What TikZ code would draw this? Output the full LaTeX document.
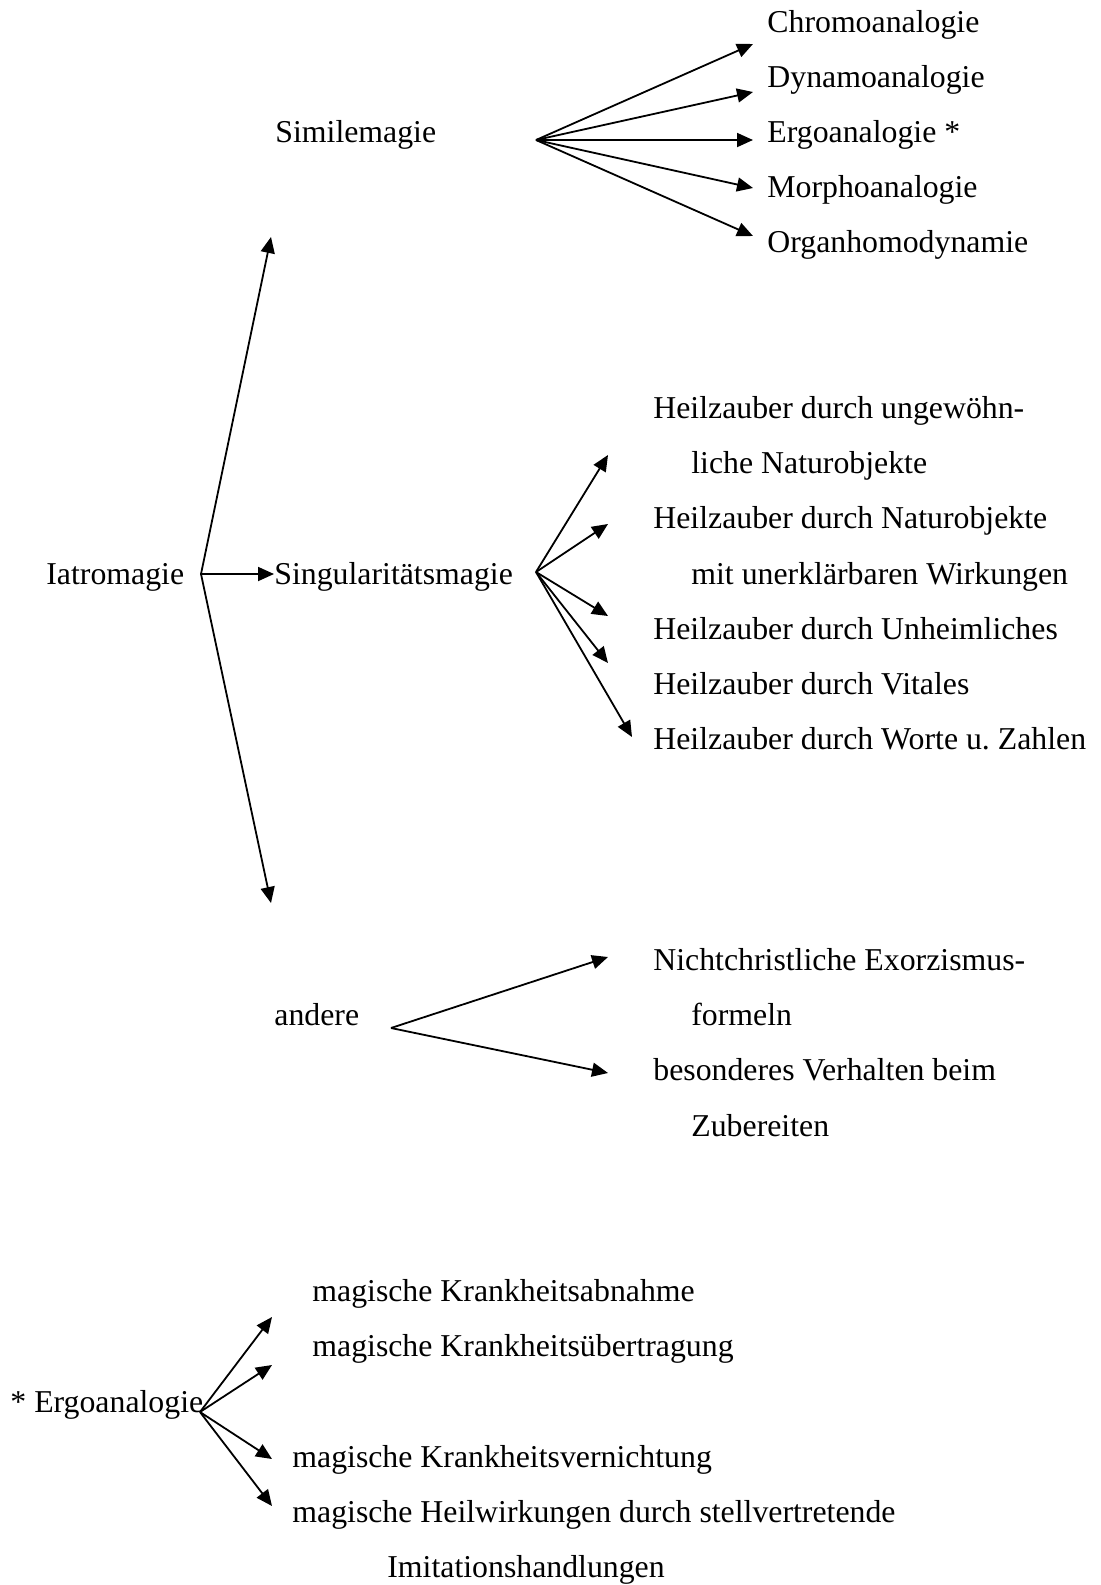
\documentclass[tikz,border=0pt]{standalone}
\usepackage{fontspec}
\setmainfont{Liberation Serif}
\usetikzlibrary{arrows.meta}
\frenchspacing
\begin{document}
\begin{tikzpicture}[x=0.5pt,y=-0.5pt,
  lbl/.style={anchor=base west,inner sep=0pt,font=\fontsize{15.9pt}{19pt}\selectfont},
  arr/.style={line width=0.9pt,-{Triangle[length=8pt,width=7pt]}}]
\useasboundingbox (0,0) rectangle (1101,1585);
\fill[white] (0,0) rectangle (1101,1585);
% Similemagie branch
\node[lbl] (sim) at (275,142.4) {Similemagie};
\node[lbl] (chr) at (767,32) {Chromoanalogie};
\node[lbl] (dyn) at (767,87.2) {Dynamoanalogie};
\node[lbl] (erg) at (767,142.4) {Ergoanalogie *};
\node[lbl] (mor) at (767,197.6) {Morphoanalogie};
\node[lbl] (org) at (767,252.8) {Organhomodynamie};
\coordinate (simS) at (536,140);
\coordinate (t1) at (753,44);
\coordinate (t2) at (753,92);
\coordinate (t3) at (753,140);
\coordinate (t4) at (753,188);
\coordinate (t5) at (753,236);
\foreach \t in {t1,t2,t3,t4,t5} \draw[arr] (simS) -- (\t);
% Iatromagie
\node[lbl] (iat) at (46,584) {Iatromagie};
\coordinate (iatS) at (201,574);
\coordinate (iatU) at (271,237);
\coordinate (iatD) at (271,903);
\node[lbl] (sing) at (274,584) {Singularitätsmagie};
\draw[arr] (iatS) -- (iatU);
\draw[arr] (iatS) -- (sing.west |- iatS);
\draw[arr] (iatS) -- (iatD);
% Singularitaetsmagie branch
\node[lbl] (h1) at (653,418.4) {Heilzauber durch ungewöhn-};
\node[lbl] (h1b) at (691,473.6) {liche Naturobjekte};
\node[lbl] (h2) at (653,528.8) {Heilzauber durch Naturobjekte};
\node[lbl] (h2b) at (691,584) {mit unerklärbaren Wirkungen};
\node[lbl] (h3) at (653,639.2) {Heilzauber durch Unheimliches};
\node[lbl] (h4) at (653,694.4) {Heilzauber durch Vitales};
\node[lbl] (h5) at (653,749.6) {Heilzauber durch Worte u. Zahlen};
\coordinate (singS) at (536,572);
\coordinate (s1) at (608,455);
\coordinate (s2) at (608,524);
\coordinate (s3) at (608,616);
\coordinate (s4) at (608,663);
\coordinate (s5) at (632,737);
\foreach \t in {s1,s2,s3,s4,s5} \draw[arr] (singS) -- (\t);
% andere branch
\node[lbl] (and) at (274,1025.6) {andere};
\node[lbl] (n1) at (653,970.4) {Nichtchristliche Exorzismus-};
\node[lbl] (n1b) at (691,1025.6) {formeln};
\node[lbl] (n2) at (653,1080.8) {besonderes Verhalten beim};
\node[lbl] (n2b) at (691,1136) {Zubereiten};
\coordinate (andS) at (391,1028);
\coordinate (a1) at (608,957);
\coordinate (a2) at (608,1073);
\draw[arr] (andS) -- (a1);
\draw[arr] (andS) -- (a2);
% Ergoanalogie footnote
\node[lbl] (ergo) at (10,1412) {* Ergoanalogie};
\node[lbl] (m1) at (312,1301.6) {magische Krankheitsabnahme};
\node[lbl] (m2) at (312,1356.8) {magische Krankheitsübertragung};
\node[lbl] (m3) at (292,1467.2) {magische Krankheitsvernichtung};
\node[lbl] (m4) at (292,1522.4) {magische Heilwirkungen durch stellvertretende};
\node[lbl] (m4b) at (387,1577.6) {Imitationshandlungen};
\coordinate (ergS) at (200,1412);
\coordinate (e1) at (272,1317);
\coordinate (e2) at (272,1365);
\coordinate (e3) at (272,1459);
\coordinate (e4) at (272,1506);
\foreach \t in {e1,e2,e3,e4} \draw[arr] (ergS) -- (\t);
\end{tikzpicture}
\end{document}
